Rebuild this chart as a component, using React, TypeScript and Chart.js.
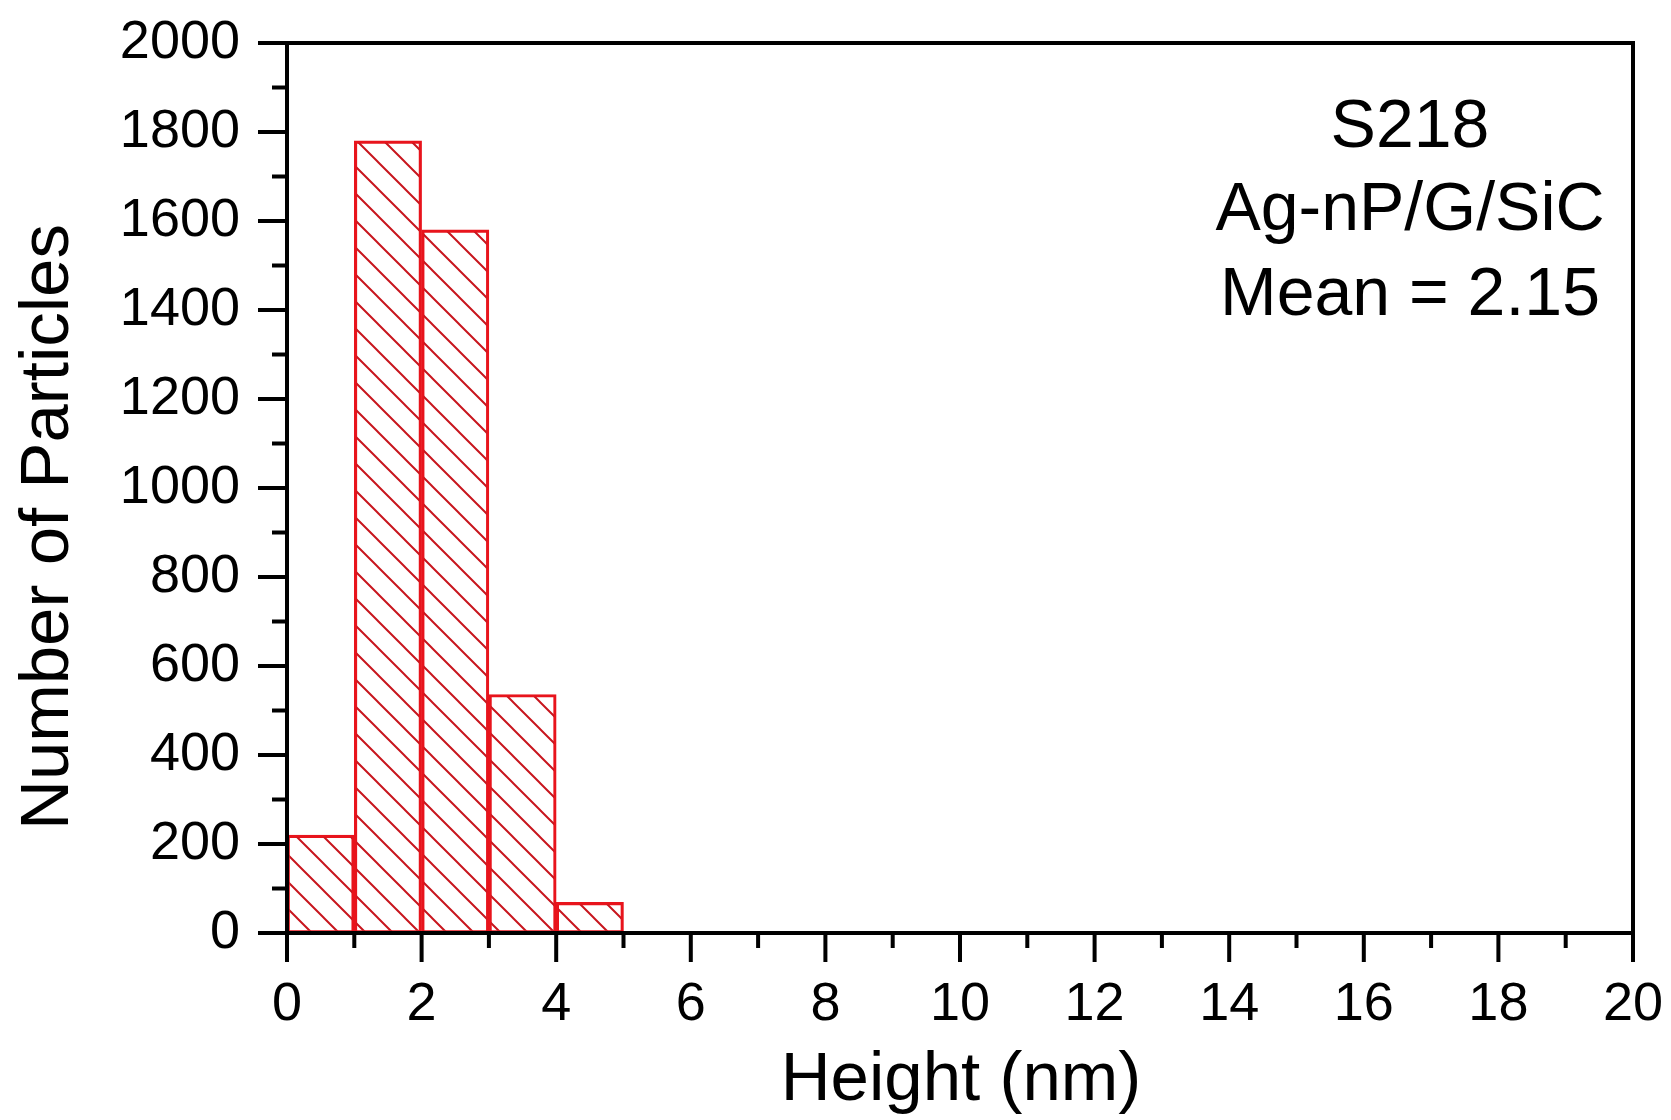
import React, { useEffect, useRef } from "react";
import { Chart, registerables } from "chart.js";

Chart.register(...registerables);

// ---- data ----
const binStarts = [0, 1, 2, 3, 4];
const binWidth = 1;
const counts = [220, 1780, 1580, 536, 69];

const xMin = 0;
const xMax = 20;
const xMajorStep = 2;
const xMinorStep = 1;
const yMin = 0;
const yMax = 2000;
const yMajorStep = 200;
const yMinorStep = 100;

const xAxisTitle = "Height (nm)";
const yAxisTitle = "Number of Particles";
const annotationLines = ["S218", "Ag-nP/G/SiC", "Mean = 2.15"];

const FONT = "'Liberation Sans', Arial, Helvetica, sans-serif";

function makeHatch(): CanvasPattern | string {
  const s = 27;
  const c = document.createElement("canvas");
  c.width = s;
  c.height = s;
  const g = c.getContext("2d");
  if (!g) return "rgba(0,0,0,0)";
  g.strokeStyle = "#c8161e";
  g.lineWidth = 2;
  g.beginPath();
  for (const off of [-s, 0, s]) {
    g.moveTo(off - 2, -2);
    g.lineTo(off + s + 2, s + 2);
  }
  g.stroke();
  const p = g.createPattern(c, "repeat");
  return p || "rgba(0,0,0,0)";
}

const frameTicksPlugin = {
  id: "frameTicks",
  afterDatasetsDraw(chart: any) {
    const { ctx, chartArea, scales } = chart;
    const { left, right, top, bottom } = chartArea;
    const x = scales.x;
    const y = scales.y;
    ctx.save();
    ctx.strokeStyle = "#000";
    ctx.lineWidth = 4;
    ctx.lineCap = "butt";
    ctx.beginPath();
    for (let v = xMin; v <= xMax + 1e-9; v += xMinorStep) {
      const px = x.getPixelForValue(v);
      const major = Math.abs(v / xMajorStep - Math.round(v / xMajorStep)) < 1e-6;
      ctx.moveTo(px, bottom);
      ctx.lineTo(px, bottom + (major ? 29 : 15));
    }
    for (let v = yMin; v <= yMax + 1e-9; v += yMinorStep) {
      const py = y.getPixelForValue(v);
      const major = Math.abs(v / yMajorStep - Math.round(v / yMajorStep)) < 1e-6;
      ctx.moveTo(left, py);
      ctx.lineTo(left - (major ? 29 : 15), py);
    }
    ctx.stroke();
    ctx.lineJoin = "miter";
    ctx.strokeRect(left, top, right - left, bottom - top);

    // axis titles
    ctx.fillStyle = "#000";
    ctx.font = `69px ${FONT}`;
    ctx.textAlign = "center";
    ctx.textBaseline = "alphabetic";
    ctx.fillText(xAxisTitle, (left + right) / 2 + 1, 1100);
    ctx.save();
    ctx.translate(68, 527);
    ctx.rotate(-Math.PI / 2);
    ctx.fillText(yAxisTitle, 0, 0);
    ctx.restore();

    // annotation
    ctx.font = `68px ${FONT}`;
    const baselines = [147, 230, 315];
    annotationLines.forEach((t, i) => {
      ctx.fillText(t, 1410, baselines[i]);
    });
    ctx.restore();
  },
};

function zeroPadding(scale: any) {
  scale.paddingTop = 0;
  scale.paddingBottom = 0;
  scale.paddingLeft = 0;
  scale.paddingRight = 0;
}

export default function App() {
  const ref = useRef<HTMLCanvasElement | null>(null);
  useEffect(() => {
    if (!ref.current) return;
    const hatch = makeHatch();
    const chart = new Chart(ref.current, {
      type: "bar",
      data: {
        datasets: [
          {
            label: "Count",
            data: binStarts.map((b, i) => ({ x: b + binWidth / 2, y: counts[i] })),
            backgroundColor: hatch as any,
            borderColor: "#e8141c",
            borderWidth: 2.5,
            borderSkipped: false,
            barPercentage: 1,
            categoryPercentage: 1,
          },
        ],
      },
      options: {
        animation: false,
        responsive: false,
        devicePixelRatio: 1,
        layout: { padding: { left: 0, top: 43, right: 38, bottom: 0 } },
        plugins: {
          legend: { display: false },
          tooltip: { enabled: false },
        },
        scales: {
          x: {
            type: "linear",
            min: xMin,
            max: xMax,
            offset: false,
            grid: { display: false, drawTicks: false },
            border: { display: false },
            ticks: {
              stepSize: xMajorStep,
              padding: 40,
              color: "#000",
              font: { family: FONT, size: 54 },
              maxRotation: 0,
              autoSkip: false,
              callback: (v: any) => String(v),
            },
            afterFit: (scale: any) => {
              scale.height = 187;
              zeroPadding(scale);
            },
          },
          y: {
            type: "linear",
            min: yMin,
            max: yMax,
            grid: { display: false, drawTicks: false },
            border: { display: false },
            ticks: {
              stepSize: yMajorStep,
              padding: 47,
              color: "#000",
              font: { family: FONT, size: 54 },
              autoSkip: false,
              callback: (v: any) => String(v),
            },
            afterFit: (scale: any) => {
              scale.width = 287;
              zeroPadding(scale);
            },
          },
        },
      },
      plugins: [frameTicksPlugin],
    });
    return () => chart.destroy();
  }, []);
  return (
    <div style={{ position: "absolute", left: 0, top: 0, width: 1671, height: 1120, background: "#fff" }}>
      <canvas ref={ref} width={1671} height={1120} style={{ display: "block" }} />
    </div>
  );
}
